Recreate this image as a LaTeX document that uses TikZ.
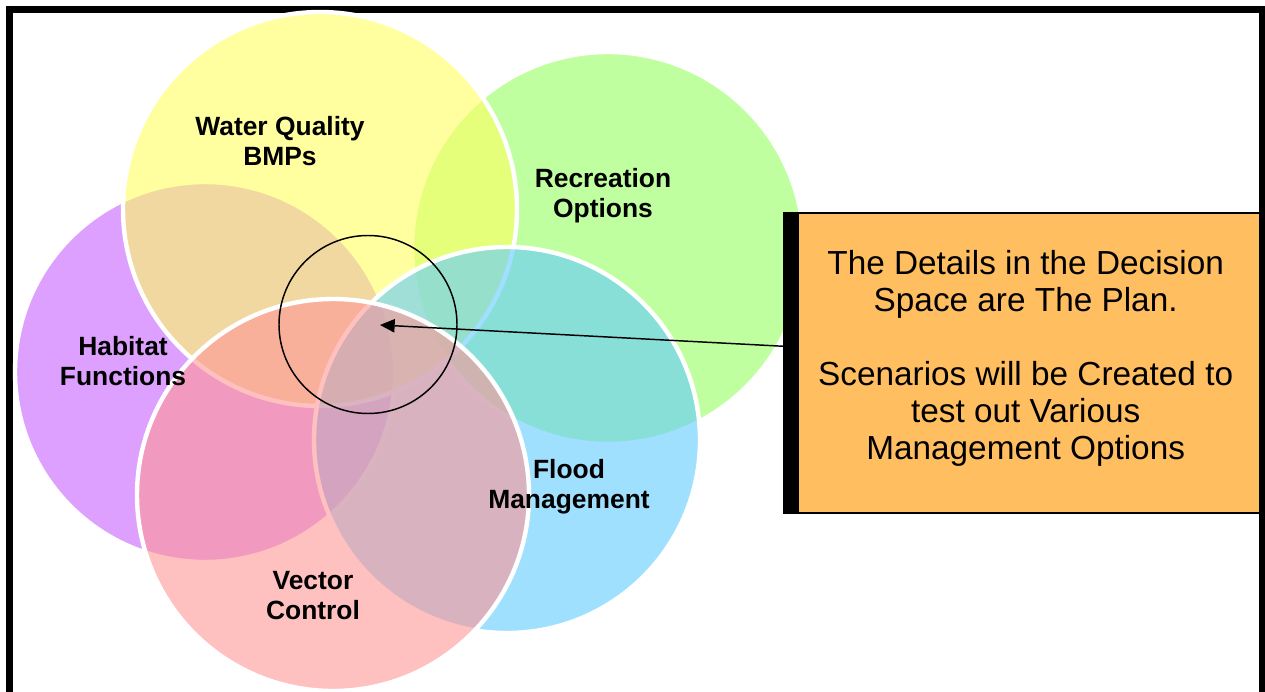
\documentclass[tikz,border=0pt]{standalone}
\usepackage{fontspec}
\setmainfont{Liberation Sans}
\usetikzlibrary{arrows.meta}
\definecolor{habpurple}{RGB}{198,97,255}
\definecolor{wqyellow}{RGB}{255,255,97}
\definecolor{recgreen}{RGB}{150,255,97}
\definecolor{floodblue}{RGB}{97,203,255}
\definecolor{vecpink}{RGB}{255,150,150}
\definecolor{planorange}{RGB}{255,190,96}
\tikzset{
    venn/.style={fill opacity=0.6, draw=white, line width=3.3pt},
    vennlabel/.style={font=\bfseries\fontsize{19.8}{22.5}\selectfont, align=center, inner sep=0pt},
    planbox/.style={draw, line width=1.1pt, fill=planorange, minimum width=346.5pt, minimum height=225pt, inner sep=0pt},
    plantext/.style={align=center, font=\fontsize{25}{27.75}\selectfont, inner sep=0pt},
    pointer/.style={line width=1.1pt, -{Triangle[length=11pt, width=10pt]}}
}
\begin{document}
\begin{tikzpicture}[x=0.75pt, y=-0.75pt]
    \useasboundingbox (0,0) rectangle (1265,692);
    \clip (0,0) rectangle (1265,692);
    \draw [line width=4.9pt] (9.4,9.4) rectangle (1262.4,730);
    % the five circles, back to front
    \draw [venn, fill=habpurple] (205,372) circle [radius=142.5pt];
    \draw [venn, fill=recgreen]  (608,248) circle [radius=147pt];
    \draw [venn, fill=wqyellow]  (320,209) circle [radius=147.75pt];
    \draw [venn, fill=floodblue] (507,440) circle [radius=144.75pt];
    \draw [venn, fill=vecpink]   (333,495) circle [radius=147pt];
    \coordinate (space) at (368,324.5);
    \coordinate (focus) at (380,325);
    \draw [line width=1.1pt] (space) circle [radius=66.75pt];
    \node [vennlabel] (wq)    at (280,141)   {Water Quality\\BMPs};
    \node [vennlabel] (rec)   at (603,196)   {Recreation\\Options};
    \node [vennlabel] (hab)   at (123,361.5) {Habitat\\Functions};
    \node [vennlabel] (flood) at (569,487)   {Flood\\Management};
    \node [vennlabel] (vec)   at (313,595.5) {Vector\\Control};
    \node [planbox] (plan) at (1029,363) {};
    \node [plantext] (plantxt) at ([xshift=-2.5pt, yshift=3.5pt]plan.center)
        {The Details in the Decision\\Space are The Plan.\\[27.75pt]
        Scenarios will be Created to\\test out Various\\Management Options};
    \draw [pointer] ([yshift=12pt]plan.west) -- (focus);
    \fill ([xshift=-10.5pt]plan.south west) rectangle (plan.north west);
\end{tikzpicture}
\end{document}
